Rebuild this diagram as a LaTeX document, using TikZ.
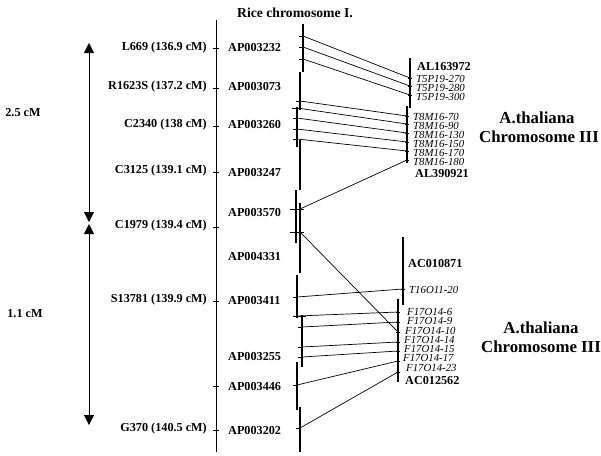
\documentclass[tikz,border=0pt]{standalone}
\usepackage{fontspec}
\setmainfont{Liberation Serif}
\usetikzlibrary{arrows.meta}
\begin{document}
\begin{tikzpicture}[x=1pt,y=-1pt,
  bl/.style={font=\fontsize{12.2}{13}\selectfont\bfseries, inner sep=0pt},
  it/.style={font=\fontsize{10.8}{11}\selectfont\itshape, inner sep=0pt, text height=7pt, text depth=0pt},
  big/.style={font=\fontsize{16.8}{18}\selectfont\bfseries, inner sep=0pt},
  bac/.style={line width=2.8pt},
  conn/.style={line width=0.7pt},
  tk/.style={line width=1pt},
  span/.style={line width=0.8pt, {Triangle[width=10pt,length=10pt]}-{Triangle[width=10pt,length=10pt]}}]
\useasboundingbox (0,0) rectangle (601,455);
\node[font=\fontsize{13.7}{15}\selectfont\bfseries, inner sep=0pt] (title) at (295,13) {Rice chromosome I.};
% main rice line
\coordinate (rtop) at (216,20);
\coordinate (rbot) at (216,452);
\draw[line width=0.8pt] (rtop) -- (rbot);
\foreach \y in {48,88,126,172,227,301,386,430}{
  \draw[tk] (213,\y) -- (219,\y);
}
% left marker labels
\node[bl,anchor=east] (m1) at (207,48) {L669 (136.9 cM)};
\node[bl,anchor=east] (m2) at (207,87) {R1623S (137.2 cM)};
\node[bl,anchor=east] (m3) at (207,125) {C2340 (138 cM)};
\node[bl,anchor=east] (m4) at (207,171) {C3125 (139.1 cM)};
\node[bl,anchor=east] (m5) at (207,226) {C1979 (139.4 cM)};
\node[bl,anchor=east] (m6) at (207,300) {S13781 (139.9 cM)};
\node[bl,anchor=east] (m7) at (207,429) {G370 (140.5 cM)};
% AP labels
\node[bl,anchor=west] (p1) at (228,48) {AP003232};
\node[bl,anchor=west] (p2) at (228,87) {AP003073};
\node[bl,anchor=west] (p3) at (228,125) {AP003260};
\node[bl,anchor=west] (p4) at (228,172) {AP003247};
\node[bl,anchor=west] (p5) at (228,212) {AP003570};
\node[bl,anchor=west] (p6) at (228,256) {AP004331};
\node[bl,anchor=west] (p7) at (228,300) {AP003411};
\node[bl,anchor=west] (p8) at (228,356) {AP003255};
\node[bl,anchor=west] (p9) at (228,386) {AP003446};
\node[bl,anchor=west] (p10) at (228,430) {AP003202};
% cM spans
\coordinate (s1t) at (89,43);
\coordinate (s1b) at (89,222);
\coordinate (s2t) at (89,224);
\coordinate (s2b) at (89,425);
\draw[span] (s1t) -- (s1b);
\draw[span] (s2t) -- (s2b);
\node[bl] (c1) at (23,113) {2.5 cM};
\node[bl] (c2) at (25,314) {1.1 cM};
% rice BAC bars
\draw[bac] (303,24) -- (303,72);
\draw[bac] (300,72) -- (300,110);
\draw[bac] (297,107) -- (297,147);
\draw[bac] (300,140) -- (300,190);
\draw[bac] (296,190) -- (296,243);
\draw[bac] (300,203) -- (300,273);
\draw[bac] (297,275) -- (297,318);
\draw[bac] (302,315) -- (302,367);
\draw[bac] (297,362) -- (297,410);
\draw[bac] (300,407) -- (300,452);
% Arabidopsis BAC bars
\draw[bac] (410,58) -- (410,108);
\draw[bac] (407,106) -- (407,163);
\draw[bac] (403,237) -- (403,305);
\draw[bac] (398,299) -- (398,382);
% left connector ends
\coordinate (a1) at (303,36);
\coordinate (a2) at (303,47);
\coordinate (a3) at (303,59);
\coordinate (a4) at (300,101);
\coordinate (a5) at (297,108);
\coordinate (a6) at (297,118);
\coordinate (a7) at (297,129);
\coordinate (a8) at (297,139);
\coordinate (a9) at (300,209);
\coordinate (a10) at (300,232);
\coordinate (a11) at (297,297);
\coordinate (a12) at (297,316);
\coordinate (a13) at (302,327);
\coordinate (a14) at (302,347);
\coordinate (a15) at (302,357);
\coordinate (a16) at (297,385);
\coordinate (a17) at (300,428);
% right connector ends
\coordinate (b1) at (410,78);
\coordinate (b2) at (410,86);
\coordinate (b3) at (410,95);
\coordinate (b4) at (407,116);
\coordinate (b5) at (407,124);
\coordinate (b6) at (407,133);
\coordinate (b7) at (407,142);
\coordinate (b8) at (407,151);
\coordinate (b9) at (407,160);
\coordinate (b10) at (398,332);
\coordinate (b11) at (403,289);
\coordinate (b12) at (398,312);
\coordinate (b13) at (398,322);
\coordinate (b14) at (398,342);
\coordinate (b15) at (398,351);
\coordinate (b16) at (398,361);
\coordinate (b17) at (398,372);
\foreach \i in {1,...,17}{
  \draw[conn] (a\i) -- (b\i);
}
% ticks at ends
\foreach \i in {1,2,3,4,6,7,8,11,13,14,15,16,17}{
  \draw[tk] ([xshift=-4pt]a\i) -- ([xshift=1pt]a\i);
}
\draw[tk] (292,108) -- (302,108);
\draw[tk] (290,209) -- (304,209);
\draw[tk] (290,232) -- (304,232);
\draw[tk] (293,316) -- (306,316);
\foreach \i in {1,...,17}{
  \draw[tk] ([xshift=-2pt]b\i) -- ([xshift=2pt]b\i);
}
% right labels
\node[bl,anchor=west] (q1) at (417,67) {AL163972};
\node[it,anchor=west] (q2) at (416,79) {T5P19-270};
\node[it,anchor=west] (q3) at (416,88) {T5P19-280};
\node[it,anchor=west] (q4) at (416,97) {T5P19-300};
\node[it,anchor=west] (q5) at (413,117) {T8M16-70};
\node[it,anchor=west] (q6) at (413,126) {T8M16-90};
\node[it,anchor=west] (q7) at (413,135) {T8M16-130};
\node[it,anchor=west] (q8) at (413,144) {T8M16-150};
\node[it,anchor=west] (q9) at (413,153) {T8M16-170};
\node[it,anchor=west] (q10) at (413,162) {T8M16-180};
\node[bl,anchor=west] (q11) at (415,173) {AL390921};
\node[bl,anchor=west] (q12) at (408,263) {AC010871};
\node[it,anchor=west] (q13) at (409,290) {T16O11-20};
\node[it,anchor=west] (q14) at (407,312) {F17O14-6};
\node[it,anchor=west] (q15) at (407,321) {F17O14-9};
\node[it,anchor=west] (q16) at (405,331) {F17O14-10};
\node[it,anchor=west] (q17) at (404,340) {F17O14-14};
\node[it,anchor=west] (q18) at (404,349) {F17O14-15};
\node[it,anchor=west] (q19) at (403,358) {F17O14-17};
\node[it,anchor=west] (q20) at (406,368) {F17O14-23};
\node[bl,anchor=west] (q21) at (405,380) {AC012562};
% species labels
\node[big] (ath1) at (537,118) {A.thaliana};
\node[big] (chr1) at (539,137) {Chromosome III};
\node[big] (ath2) at (541,328) {A.thaliana};
\node[big] (chr2) at (541,347) {Chromosome III};
\end{tikzpicture}
\end{document}
